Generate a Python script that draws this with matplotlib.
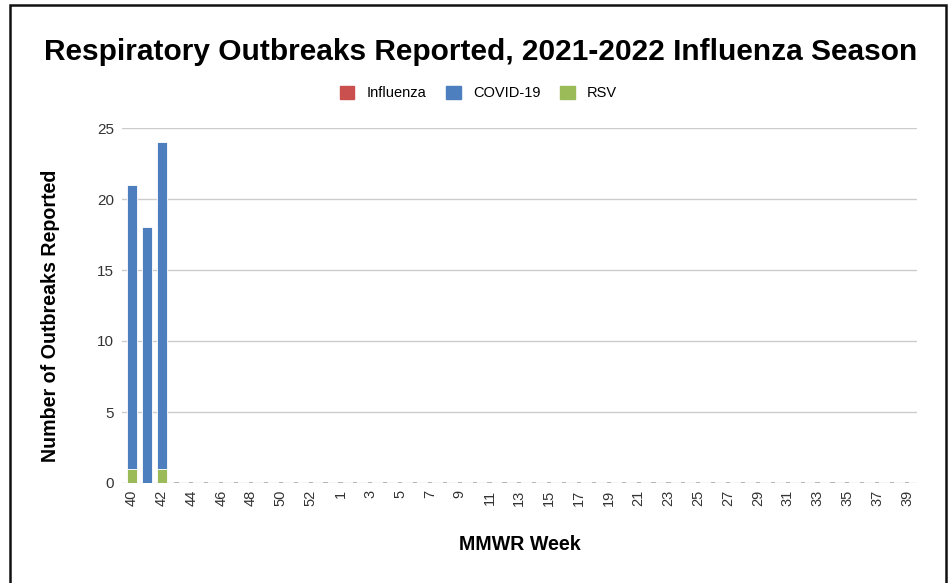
"""Respiratory outbreaks stacked bars -> out.png"""
import matplotlib
matplotlib.use("Agg")
import matplotlib.pyplot as plt
from matplotlib.patches import Rectangle, Patch

plt.rcParams["font.family"] = ["Liberation Sans", "DejaVu Sans"]

weeks = [str(w) for w in list(range(40, 54)) + list(range(1, 40))]
influenza = [0] * 53
covid = [20, 18, 23] + [0] * 50
rsv = [1, 0, 1] + [0] * 50

RED, BLUE, GREEN = "#c9504e", "#4d7fbf", "#9bbb59"

fig = plt.figure(figsize=(9.51, 5.83), dpi=100)
ax = fig.add_axes([122 / 951, 1 - 483 / 583, 795 / 951, 355 / 583])

x = list(range(len(weeks)))
w = 0.67
# short grey dashes along the baseline, one per week
ax.hlines([0] * len(x), [i - 0.14 for i in x], [i + 0.14 for i in x],
          color="#aaaaaa", lw=1.2, zorder=2)
ax.bar(x, influenza, w, color=RED, edgecolor="white", lw=0.6, zorder=3)
ax.bar(x, rsv, w, bottom=influenza, color=GREEN, edgecolor="white", lw=0.6, zorder=3)
base = [a + b for a, b in zip(influenza, rsv)]
ax.bar(x, covid, w, bottom=base, color=BLUE, edgecolor="white", lw=0.6, zorder=3)

ax.set_xlim(-0.65, len(weeks) - 1 + 0.67)
ax.set_ylim(0, 25)
ax.set_yticks(range(0, 26, 5))
ax.yaxis.grid(True, color="#cccccc", lw=1)
ax.set_axisbelow(True)
for s in ax.spines.values():
    s.set_visible(False)
ax.tick_params(length=0, colors="#333")
ax.tick_params(axis="y", pad=5.8, labelsize=11)
ax.tick_params(axis="x", pad=5, labelsize=10.5)
ax.set_xticks(x[::2])
ax.set_xticklabels(weeks[::2], rotation=90)

ax.set_ylabel("Number of Outbreaks Reported", fontsize=14.1, fontweight="bold")
ax.yaxis.set_label_coords(-0.078, 0.47)
ax.set_xlabel("MMWR Week", fontsize=14.1, fontweight="bold", labelpad=21)

fig.text(0.505, 1 - 52 / 583, "Respiratory Outbreaks Reported, 2021-2022 Influenza Season",
         ha="center", va="center", fontsize=21.5, fontweight="bold")

handles = [Patch(color=RED, label="Influenza"), Patch(color=BLUE, label="COVID-19"),
           Patch(color=GREEN, label="RSV")]
fig.legend(handles=handles, loc="center", bbox_to_anchor=(0.503, 1 - 93 / 583), ncol=3,
           frameon=False, fontsize=10.5, handlelength=1.0, handleheight=1.0,
           columnspacing=1.35, handletextpad=0.85)

fig.patches.append(Rectangle((10 / 951, -0.01), 936 / 951, 1 - 5 / 583 + 0.01,
                             transform=fig.transFigure, fill=False, lw=1.8, ec="#111"))

fig.savefig("out.png", dpi=100)
